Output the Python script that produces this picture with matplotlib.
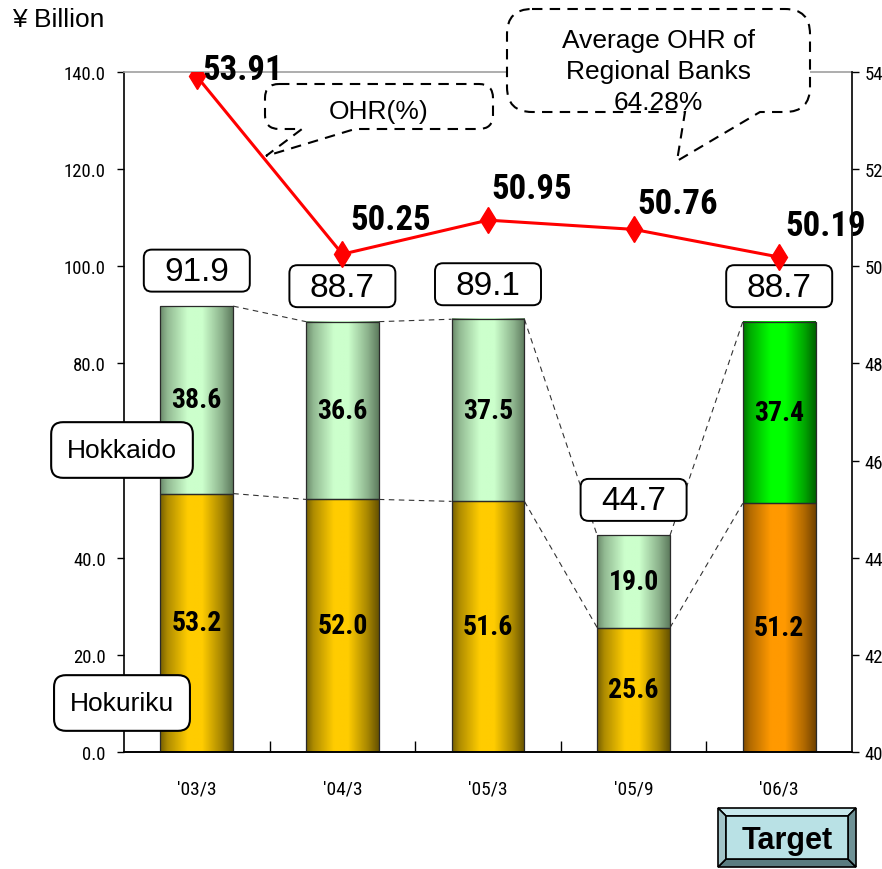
import numpy as np
import matplotlib.pyplot as plt
from matplotlib.colors import to_rgb
from matplotlib.patches import FancyBboxPatch, PathPatch, Polygon
from matplotlib.path import Path
from matplotlib.ticker import FormatStrFormatter
from matplotlib.transforms import Affine2D, ScaledTranslation

periods = ["'03/3", "'04/3", "'05/3", "'05/9", "'06/3"]
hokuriku = [53.2, 52.0, 51.6, 25.6, 51.2]
hokkaido = [38.6, 36.6, 37.5, 19.0, 37.4]
totals = [91.9, 88.7, 89.1, 44.7, 88.7]
ohr = [53.91, 50.25, 50.95, 50.76, 50.19]

NARROW = ['Roboto Condensed', 'DejaVu Sans']
SANS = ['Liberation Sans', 'DejaVu Sans']
plt.rcParams['font.family'] = NARROW
plt.rcParams['font.stretch'] = 'condensed'

# (light, dark) pairs for the cylinder shading of each bar
gold = ('#ffcc00', '#5e4c00')
orange = ('#ff9900', '#6a3e00')
pale = ('#ccffcc', '#587458')
green = ('#00ff00', '#005a00')
low_shades = [gold, gold, gold, gold, orange]
top_shades = [pale, pale, pale, pale, green]
# where the OHR numbers sit relative to their markers (pixels)
label_offsets = [(6, 7), (8, 35), (3, 32), (4, 26), (6, 32)]

W, H = 882, 870
fig = plt.figure(figsize=(W / 100, H / 100), dpi=100)
ax = fig.add_axes([124 / W, 1 - 753 / H, (852 - 124) / W, (753 - 73) / H])
ax2 = ax.twinx()

# figure pixels measured from the top-left corner
pix = Affine2D().scale(1 / W, -1 / H).translate(0, 1) + fig.transFigure


def gradient(light, dark):
    t = np.linspace(0, 1, 120)
    w = np.interp(t, [0, 0.1, 0.38, 0.58, 0.85, 1], [0.15, 0.5, 1, 1, 0.45, 0.05])
    lo, hi = np.array(to_rgb(dark)), np.array(to_rgb(light))
    return (lo + (hi - lo) * w[:, None])[None, :, :]


def px_at(axis, xv, yv):
    return Affine2D().scale(1 / fig.dpi) + fig.dpi_scale_trans + ScaledTranslation(xv, yv, axis.transData)


x = np.arange(len(periods))
b1 = ax.bar(x, hokuriku, width=0.5, facecolor='none', edgecolor='#2a2a2a', lw=0.9, zorder=3)
b2 = ax.bar(x, hokkaido, bottom=hokuriku, width=0.5, facecolor='none', edgecolor='#2a2a2a', lw=0.9, zorder=3)

for bars, shades in ((b1, low_shades), (b2, top_shades)):
    for p, (light, dark) in zip(bars, shades):
        x0, y0 = p.get_xy()
        ax.imshow(gradient(light, dark), extent=(x0, x0 + p.get_width(), y0, y0 + p.get_height()),
                  aspect='auto', interpolation='bilinear', zorder=2)
        ax.text(x0 + p.get_width() / 2, y0 + p.get_height() / 2, f"{p.get_height():.1f}",
                ha='center', va='center', fontsize=20, fontweight='bold', zorder=4)

# dashed guides joining neighbouring bars
tops = [p.get_y() + p.get_height() for p in b2]
mids = [p.get_height() for p in b1]
for i in range(len(x) - 1):
    for lvl in (tops, mids):
        ax.plot([x[i] + 0.25, x[i + 1] - 0.25], [lvl[i], lvl[i + 1]], color='#333333',
                lw=0.8, ls=(0, (5, 4)), zorder=1.5)

# total labels in rounded boxes
for xi, t in zip(x, totals):
    ax.add_patch(FancyBboxPatch((-53, 14), 106, 42, boxstyle='round,pad=0,rounding_size=8',
                                transform=px_at(ax, xi, t), fc='white', ec='black', lw=1.4, zorder=5))
    ax.annotate(f"{t:.1f}", (xi, t), xytext=(0, 34), textcoords='offset pixels',
                ha='center', va='center', fontsize=24, family=SANS, fontstretch='normal', zorder=6)

ax.set_xlim(-0.5, 4.5)
ax.set_ylim(0, 140)
ax.set_yticks(np.arange(0, 141, 20))
ax.yaxis.set_major_formatter(FormatStrFormatter('%.1f'))
ax.set_xticks(x, periods)
ax.set_xticks(x[:-1] + 0.5, minor=True)
ax.tick_params(axis='x', which='major', length=0, pad=20, labelsize=14)
ax.tick_params(axis='x', which='minor', direction='in', length=8, width=1)
ax.tick_params(axis='y', direction='out', length=5, width=1, labelsize=13.5, pad=8)
ax.spines['top'].set_color('#a0a0a0')
ax.spines['right'].set_visible(False)

# OHR line on the right-hand scale
ax2.plot(x, ohr, color='red', lw=2.2, marker='d', ms=13, zorder=4)
for xi, v, (dx, dy) in zip(x, ohr, label_offsets):
    ax2.annotate(f"{v:.2f}", (xi, v), xytext=(dx, dy), textcoords='offset pixels',
                 ha='left', va='center', fontsize=25, fontweight='bold')
ax2.set_ylim(40, 54)
ax2.set_yticks(np.arange(40, 55, 2))
ax2.tick_params(axis='y', direction='out', length=5, width=1, labelsize=13.5, pad=4)
ax2.spines['top'].set_visible(False)
ax2.spines['left'].set_visible(False)
for a in (ax, ax2):
    for s in a.spines.values():
        s.set_linewidth(1.2)

fig.text(12 / W, 1 - 20 / H, '¥ Billion', fontsize=19, family=SANS, fontstretch='normal',
         ha='left', va='center')

side = dict(boxstyle='round,pad=0.6,rounding_size=0.45', fc='white', ec='black', lw=1.5)
fig.text(122 / W, 1 - 451 / H, 'Hokkaido', fontsize=19, family=SANS, fontstretch='normal',
         ha='center', va='center', bbox=side)
fig.text(122 / W, 1 - 704 / H, 'Hokuriku', fontsize=19, family=SANS, fontstretch='normal',
         ha='center', va='center', bbox=side)


def callout(x0, y0, x1, y1, r, bx0, bx1, tx, ty):
    verts = [(x0 + r, y0), (x1 - r, y0), (x1, y0), (x1, y0 + r), (x1, y1 - r), (x1, y1), (x1 - r, y1),
             (bx1, y1), (tx, ty), (bx0, y1), (x0 + r, y1), (x0, y1), (x0, y1 - r), (x0, y0 + r),
             (x0, y0), (x0 + r, y0), (x0 + r, y0)]
    codes = [Path.MOVETO, Path.LINETO, Path.CURVE3, Path.CURVE3, Path.LINETO, Path.CURVE3, Path.CURVE3,
             Path.LINETO, Path.LINETO, Path.LINETO, Path.LINETO, Path.CURVE3, Path.CURVE3, Path.LINETO,
             Path.CURVE3, Path.CURVE3, Path.CLOSEPOLY]
    fig.patches.append(PathPatch(Path(verts, codes), transform=pix, fc='white', ec='black',
                                 lw=1.5, ls=(0, (5, 3.5)), zorder=3))


callout(265, 85, 493, 130, 14, 302, 355, 266, 157)
fig.text(379 / W, 1 - 112 / H, 'OHR(%)', fontsize=19, family=SANS, fontstretch='normal',
         ha='center', va='center', zorder=4)
callout(507, 10, 810, 113, 25, 685, 760, 677, 162)
fig.text(658 / W, 1 - 72 / H, 'Average OHR of\nRegional Banks\n64.28%', fontsize=19, family=SANS,
         fontstretch='normal', ha='center', va='center', linespacing=1.35, zorder=4)

# bevelled "Target" button
bx0, by0, bx1, by1, bv = 718, 809, 856, 868, 8
faces = [
    ([(bx0, by0), (bx1, by0), (bx1 - bv, by0 + bv), (bx0 + bv, by0 + bv)], '#c8e8ec'),
    ([(bx0, by1), (bx1, by1), (bx1 - bv, by1 - bv), (bx0 + bv, by1 - bv)], '#5a7c80'),
    ([(bx0, by0), (bx0 + bv, by0 + bv), (bx0 + bv, by1 - bv), (bx0, by1)], '#a2c4c8'),
    ([(bx1, by0), (bx1 - bv, by0 + bv), (bx1 - bv, by1 - bv), (bx1, by1)], '#6f9296'),
    ([(bx0 + bv, by0 + bv), (bx1 - bv, by0 + bv), (bx1 - bv, by1 - bv), (bx0 + bv, by1 - bv)], '#b9e1e5'),
]
for pts, c in faces:
    fig.patches.append(Polygon(pts, closed=True, transform=pix, fc=c, ec='black', lw=1.2, zorder=3))
fig.text(787 / W, 1 - 849 / H, 'Target', fontsize=22, fontweight='bold', family=SANS,
         fontstretch='normal', ha='center', va='baseline', zorder=4)

fig.canvas.draw()
# the 60.0 label sits under the Hokkaido tag
ax.get_yticklabels()[3].set_visible(False)

fig.savefig('out.png', dpi=100)
